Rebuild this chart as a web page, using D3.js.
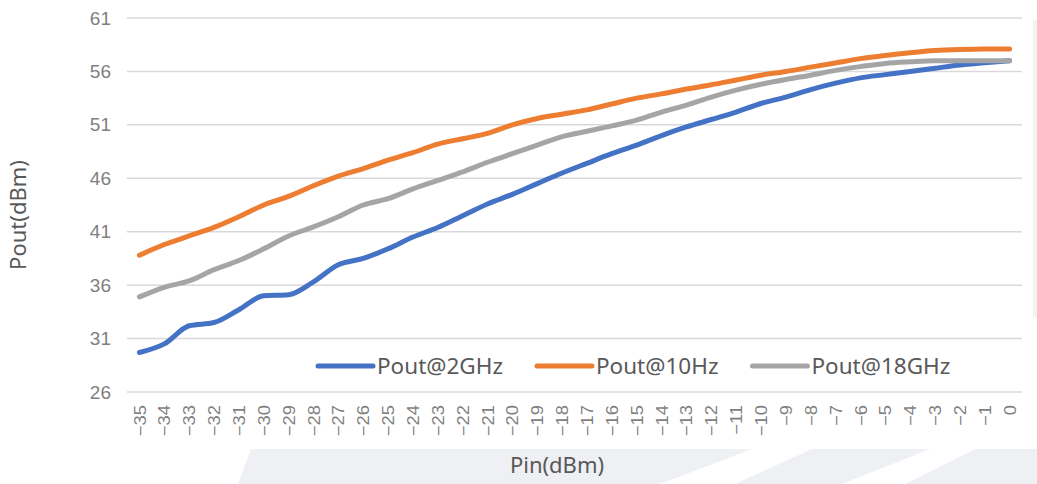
<!DOCTYPE html>
<html>
<head>
<meta charset="utf-8">
<script src="https://cdn.jsdelivr.net/npm/d3@7"></script>
<style>
  body { margin: 0; background: #ffffff; }
  svg { display: block; }
</style>
</head>
<body>
<svg id="chart" width="1037" height="484"></svg>
<script>
// Pin values (x categories)
var pin = d3.range(-35, 1);

var yTicks = [26, 31, 36, 41, 46, 51, 56, 61];

var pout2GHz = [29.7, 30.5, 32.2, 32.5, 33.7, 35.0, 35.1, 36.3, 37.9, 38.5,
  39.4, 40.5, 41.4, 42.5, 43.6, 44.5, 45.5, 46.5, 47.4, 48.3,
  49.1, 50.0, 50.8, 51.5, 52.2, 53.0, 53.6, 54.3, 54.9, 55.4,
  55.7, 56.0, 56.3, 56.6, 56.8, 57.0];

var pout10Hz = [38.8, 39.8, 40.6, 41.4, 42.4, 43.5, 44.3, 45.3, 46.2, 46.9,
  47.7, 48.4, 49.2, 49.7, 50.2, 51.0, 51.6, 52.0, 52.4, 52.95,
  53.5, 53.9, 54.35, 54.75, 55.2, 55.65, 56.0, 56.4, 56.8, 57.2,
  57.5, 57.75, 57.95, 58.05, 58.1, 58.1];

var pout18GHz = [34.9, 35.8, 36.4, 37.45, 38.3, 39.4, 40.6, 41.45, 42.4, 43.5,
  44.1, 45.0, 45.8, 46.6, 47.5, 48.3, 49.1, 49.9, 50.4, 50.9,
  51.45, 52.2, 52.85, 53.6, 54.25, 54.8, 55.25, 55.65, 56.1, 56.45,
  56.75, 56.9, 57.0, 57.0, 57.0, 57.0];

var seriesNames = ["Pout@2GHz", "Pout@10Hz", "Pout@18GHz"];
var seriesColors = ["#4472c4", "#ed7d31", "#a5a5a5"];
var seriesValues = [pout2GHz, pout10Hz, pout18GHz];

var dimensions = {
  width: 1037,
  height: 484,
  margin: { top: 18, right: 15, bottom: 92, left: 127 },
};
dimensions.boundedWidth = dimensions.width - dimensions.margin.left - dimensions.margin.right;
dimensions.boundedHeight = dimensions.height - dimensions.margin.top - dimensions.margin.bottom;

var svg = d3.select("#chart");

// background decoration (light strips at right and bottom)
svg.append("rect")
  .attr("x", 1033).attr("y", 20).attr("width", 4).attr("height", 297)
  .attr("fill", "#f2f2f2");

var bandShapes = [
  [[251, 449], [752, 449], [660, 484], [238, 484]],
  [[812, 449], [930, 449], [842, 484], [735, 484]],
  [[975, 449], [1037, 449], [1037, 484], [905, 484]],
];
svg.append("g")
  .selectAll("polygon")
  .data(bandShapes)
  .enter()
  .append("polygon")
  .attr("points", (d) => d.map((p) => p.join(",")).join(" "))
  .attr("fill", "#eef0f4");

var xScale = d3
  .scalePoint()
  .domain(pin)
  .range([dimensions.margin.left, dimensions.width - dimensions.margin.right])
  .padding(0.5);

var yScale = d3
  .scaleLinear()
  .domain([26, 61])
  .range([dimensions.margin.top + dimensions.boundedHeight, dimensions.margin.top]);

// gridlines
svg.append("g")
  .selectAll("line")
  .data(yTicks)
  .enter()
  .append("line")
  .attr("x1", dimensions.margin.left)
  .attr("x2", dimensions.width - dimensions.margin.right)
  .attr("y1", (d) => yScale(d))
  .attr("y2", (d) => yScale(d))
  .attr("stroke", "#d9d9d9")
  .attr("stroke-width", 1.5);

// y axis labels
var yAxisgen = d3.axisLeft(yScale).tickValues(yTicks).tickSize(0).tickPadding(16);
var yAxis = svg
  .append("g")
  .attr("transform", `translate(${dimensions.margin.left},0)`)
  .call(yAxisgen);
yAxis.select(".domain").remove();
yAxis.attr("font-size", 19).attr("font-family", "Liberation Sans, Arial, sans-serif");
yAxis.selectAll("text").attr("fill", "#7f7f7f");

// x axis labels
var xAxisgen = d3.axisBottom(xScale).tickSize(0).tickFormat(d3.format("d"));
var xAxis = svg
  .append("g")
  .attr("transform", `translate(0,${dimensions.margin.top + dimensions.boundedHeight})`)
  .call(xAxisgen);
xAxis.select(".domain").remove();
xAxis.attr("font-size", 16).attr("font-family", "Liberation Sans, Arial, sans-serif");
xAxis.selectAll("text")
  .attr("fill", "#7f7f7f")
  .attr("text-anchor", "end")
  .attr("dy", "0.35em")
  .attr("y", 0)
  .attr("transform", "translate(0,13) rotate(-90) scale(1.15,1)");

// lines
var lineGen = d3
  .line()
  .x((d, i) => xScale(pin[i]))
  .y((d) => yScale(d))
  .curve(d3.curveMonotoneX);

svg.append("g")
  .selectAll("path")
  .data(seriesValues)
  .enter()
  .append("path")
  .attr("d", (d) => lineGen(d))
  .attr("fill", "none")
  .attr("stroke", (d, i) => seriesColors[i])
  .attr("stroke-width", 5)
  .attr("stroke-linejoin", "round")
  .attr("stroke-linecap", "round");

// legend
var legendX = 318;
var legendY = 366;
seriesNames.forEach(function (name, i) {
  var g = svg.append("g").attr("transform", `translate(${legendX},${legendY})`);
  g.append("line")
    .attr("x1", 0).attr("x2", 55)
    .attr("stroke", seriesColors[i])
    .attr("stroke-width", 5)
    .attr("stroke-linecap", "round");
  var t = g.append("text")
    .attr("x", 59)
    .attr("dy", "0.35em")
    .attr("fill", "#595959")
    .style("font-family", "Noto Sans, sans-serif")
    .style("font-size", "22.5px")
    .text(name);
  legendX += 59 + t.node().getComputedTextLength() + 34;
});

// axis titles
svg.append("text")
  .attr("transform", "translate(26,215) rotate(-90)")
  .attr("text-anchor", "middle")
  .attr("fill", "#595959")
  .style("font-family", "Noto Sans, sans-serif")
  .style("font-size", "22px")
  .text("Pout(dBm)");

svg.append("text")
  .attr("x", 557)
  .attr("y", 473)
  .attr("text-anchor", "middle")
  .attr("fill", "#595959")
  .style("font-family", "Noto Sans, sans-serif")
  .style("font-size", "22px")
  .text("Pin(dBm)");
</script>
</body>
</html>
